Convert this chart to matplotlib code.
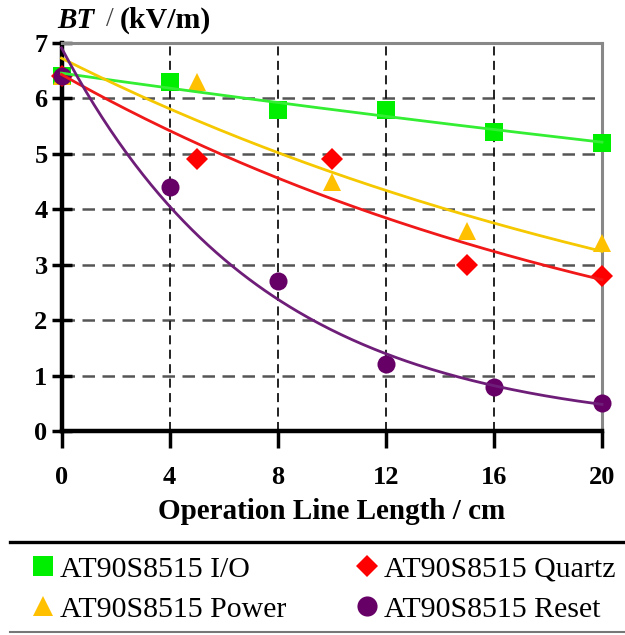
import numpy as np
import matplotlib
matplotlib.use("Agg")
import matplotlib.pyplot as plt
from matplotlib.lines import Line2D

plt.rcParams['font.family'] = ['Liberation Serif', 'DejaVu Serif']

# ---- data ----
labels = ["AT90S8515 I/O", "AT90S8515 Power", "AT90S8515 Quartz", "AT90S8515 Reset"]
x_io = [0, 4, 8, 12, 16, 20]
y_io = [6.4, 6.3, 5.8, 5.8, 5.4, 5.2]
x_power = [0, 5, 10, 15, 20]
y_power = [6.4, 6.3, 4.5, 3.6, 3.4]
x_quartz = [0, 5, 10, 15, 20]
y_quartz = [6.4, 4.9, 4.9, 3.0, 2.8]
x_reset = [0, 4, 8, 12, 16, 20]
y_reset = [6.4, 4.4, 2.7, 1.2, 0.8, 0.5]
xticks = [0, 4, 8, 12, 16, 20]
yticks = [0, 1, 2, 3, 4, 5, 6, 7]

marker_colors = ["#00EE00", "#FFC000", "#FF0000", "#660066"]
line_colors = ["#33EE33", "#F5C800", "#F01818", "#6E1E78"]
markers = ["s", "^", "D", "o"]
msizes = [12.5, 12.5, 11, 13]
leg_msizes = [14, 15, 11, 14.5]

fig = plt.figure(figsize=(6.25, 6.35), dpi=100)
ax = fig.add_axes([61.5/625, 1-431/635, (602-61.5)/625, (431-43)/635])

series = [(x_io, y_io), (x_power, y_power), (x_quartz, y_quartz), (x_reset, y_reset)]
xs = np.linspace(0, 20, 200)
handles = []
for (xv, yv), mc, lc, mk, ms, lms, lab in zip(series, marker_colors, line_colors, markers,
                                              msizes, leg_msizes, labels):
    xv = np.array(xv, float); yv = np.array(yv, float)
    b, a = np.polyfit(xv, np.log(yv), 1)
    ax.plot(xv, yv, linestyle='none', marker=mk, color=mc, markersize=ms,
            markeredgewidth=0, clip_on=False, zorder=3)
    ax.plot(xs, np.exp(a + b*xs), color=lc, lw=2.0, zorder=4, clip_on=False)
    handles.append(Line2D([], [], linestyle='none', marker=mk, color=mc,
                          markersize=lms, markeredgewidth=0, label=lab))

ax.set_xlim(0, 20)
ax.set_ylim(0, 7)
ax.set_xticks(xticks)
ax.set_yticks(yticks)
ax.set_xticklabels([str(v) for v in xticks], fontsize=19, fontweight='bold')
ax.set_yticklabels([str(v) for v in yticks], fontsize=19, fontweight='bold')
ax.tick_params(axis='x', direction='out', length=12, width=2.5, pad=13)
ax.tick_params(axis='y', direction='inout', length=14, width=2.5, pad=3)

for v in yticks[1:-1]:
    ax.axhline(v, color='#555555', lw=1.8, ls=(0, (5, 3)), zorder=1)
for v in xticks[1:-1]:
    ax.axvline(v, color='#111111', lw=1.3, ls=(0, (5, 3)), zorder=1)

ax.spines['left'].set_linewidth(3.2)
ax.spines['bottom'].set_linewidth(3.2)
ax.spines['left'].set_color('black')
ax.spines['bottom'].set_color('black')
ax.spines['top'].set_color('#888888')
ax.spines['right'].set_color('#888888')
ax.spines['top'].set_linewidth(2.2)
ax.spines['right'].set_linewidth(2.2)

ax.set_xlabel("Operation Line Length / cm", fontsize=21, fontweight='bold', labelpad=7)

fig.text(57/625, 1-20/635, "BT", fontsize=21, fontweight='bold', style='italic',
         va='center', ha='left')
fig.text(110/625, 1-20/635, "/", fontsize=20, color='#444444', va='center', ha='center')
fig.text(120/625, 1-20/635, "(kV/m)", fontsize=21.5, fontweight='bold', va='center', ha='left')

# legend separators
fig.add_artist(Line2D([10/625, 1], [1-542/635]*2, color='black', lw=2.4))
fig.add_artist(Line2D([10/625, 1], [1-632/635]*2, color='#777777', lw=1.5))

leg_kw = dict(loc='upper left', frameon=False, fontsize=21.5, handlelength=0.67,
              handletextpad=0.23, labelspacing=0.44, borderaxespad=0, borderpad=0)
leg1 = fig.legend(handles=[handles[0], handles[1]], bbox_to_anchor=(33/625, 1-556/635), **leg_kw)
leg2 = fig.legend(handles=[handles[2], handles[3]], bbox_to_anchor=(357/625, 1-556/635), **leg_kw)

fig.savefig("out.png", dpi=100)
